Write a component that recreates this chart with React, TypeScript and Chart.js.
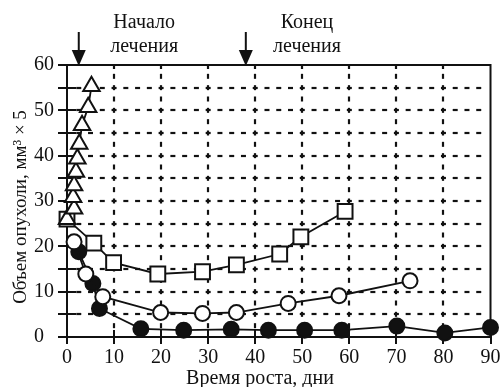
import { useEffect, useRef } from 'react';
import { Chart, registerables } from 'chart.js';

Chart.register(...registerables);

// Control group (triangles)
const controlDays = [0, 1.5, 1.3, 1.5, 1.9, 2.2, 2.6, 3.2, 4.5, 5.2];
const controlVolume = [26, 28.3, 30.8, 33.4, 36.4, 39.3, 42.6, 46.7, 50.7, 55.3];
// Squares
const squareDays = [0, 5.7, 9.9, 19.3, 28.8, 36, 45.2, 49.7, 59.1];
const squareVolume = [26, 20.7, 16.4, 13.9, 14.4, 15.9, 18.3, 22.1, 27.7];
// Open circles
const openDays = [1.5, 4, 7.6, 19.9, 28.8, 36, 47, 57.8, 72.9];
const openVolume = [21, 13.9, 8.9, 5.4, 5.2, 5.4, 7.4, 9.1, 12.4];
// Filled circles
const filledDays = [2.5, 5.5, 6.9, 15.7, 24.8, 34.9, 42.8, 50.5, 58.4, 70.1, 80.3, 90];
const filledVolume = [18.8, 11.8, 6.3, 1.8, 1.5, 1.7, 1.5, 1.5, 1.5, 2.4, 0.9, 2.1];

// Treatment markers (days) and their captions
const treatmentDays = [2.5, 38];
const treatmentCaptions = [
  ['Начало', 'лечения'],
  ['Конец', 'лечения'],
];
const captionDays = [16.4, 51];

const xTitle = 'Время роста, дни';
const yTitle = 'Объем опухоли, мм³ × 5';

const FONT = '"Liberation Serif", "Times New Roman", Times, "DejaVu Serif", serif';

const toPoints = (xs: number[], ys: number[]) => xs.map((x, i) => ({ x, y: ys[i] }));

const decor = {
  id: 'decor',
  beforeDatasetsDraw(chart: any) {
    const { ctx, chartArea: a, scales } = chart;
    const x = scales.x;
    const y = scales.y;
    ctx.save();
    ctx.strokeStyle = '#111';
    ctx.lineWidth = 2.2;
    ctx.lineCap = 'butt';
    // horizontal dashed grid
    for (let v = 5; v < 60; v += 5) {
      const py = Math.round(y.getPixelForValue(v));
      for (let d = 0; d < 90; d += 10) {
        const x0 = x.getPixelForValue(d);
        const x1 = x.getPixelForValue(d + 10);
        const w = (x1 - x0) / 4;
        for (let k = 0; k < 4; k++) {
          if (d === 0 && k === 0) continue;
          const cx = x0 + k * w;
          ctx.beginPath();
          ctx.moveTo(cx - 2.5, py);
          ctx.lineTo(cx + 2.5, py);
          ctx.stroke();
        }
      }
    }
    // vertical dashed grid
    for (let d = 10; d < 90; d += 10) {
      const px = Math.round(x.getPixelForValue(d));
      for (let v = 2.5; v < 60; v += 2.5) {
        const cy = y.getPixelForValue(v);
        ctx.beginPath();
        ctx.moveTo(px, cy - 2.5);
        ctx.lineTo(px, cy + 2.5);
        ctx.stroke();
      }
      ctx.beginPath();
      ctx.moveTo(px, a.top);
      ctx.lineTo(px, a.top + 4);
      ctx.stroke();
    }
    // frame
    ctx.lineWidth = 2;
    ctx.strokeRect(a.left, a.top, a.right - a.left, a.bottom - a.top);
    // y ticks (crossing)
    for (let v = 0; v <= 60; v += 5) {
      const py = Math.round(y.getPixelForValue(v));
      ctx.beginPath();
      ctx.moveTo(a.left - 9, py);
      ctx.lineTo(a.left + 9, py);
      ctx.stroke();
    }
    // x ticks (crossing)
    for (let d = 0; d <= 90; d += 10) {
      const px = Math.round(x.getPixelForValue(d));
      ctx.beginPath();
      ctx.moveTo(px, a.bottom - 7);
      ctx.lineTo(px, a.bottom + 7);
      ctx.stroke();
    }
    ctx.restore();
  },
  afterDraw(chart: any) {
    const { ctx, chartArea: a, scales } = chart;
    const x = scales.x;
    ctx.save();
    ctx.fillStyle = '#111';
    ctx.strokeStyle = '#111';
    // arrows
    treatmentDays.forEach((d) => {
      const px = x.getPixelForValue(d);
      ctx.lineWidth = 2;
      ctx.beginPath();
      ctx.moveTo(px, 32);
      ctx.lineTo(px, a.top - 12);
      ctx.stroke();
      ctx.beginPath();
      ctx.moveTo(px - 7, a.top - 15);
      ctx.lineTo(px + 7, a.top - 15);
      ctx.lineTo(px, a.top + 1);
      ctx.closePath();
      ctx.fill();
    });
    // captions
    ctx.font = `20px ${FONT}`;
    ctx.textAlign = 'center';
    ctx.textBaseline = 'alphabetic';
    treatmentCaptions.forEach((lines, i) => {
      const px = x.getPixelForValue(captionDays[i]);
      ctx.fillText(lines[0], px, 28);
      ctx.fillText(lines[1], px, 52);
    });
    // axis titles
    ctx.font = `20px ${FONT}`;
    ctx.fillText(xTitle, 260, 384);
    ctx.font = `19px ${FONT}`;
    ctx.translate(26, 207);
    ctx.rotate(-Math.PI / 2);
    ctx.fillText(yTitle, 0, 0);
    ctx.restore();
  },
};

export default function App() {
  const ref = useRef<HTMLCanvasElement>(null);
  useEffect(() => {
    document.body.style.margin = '0';
    let chart: Chart | null = null;
    let cancelled = false;
    const build = () => {
      if (cancelled || !ref.current) return;
      const common = {
        showLine: true,
        borderColor: '#111',
        borderWidth: 1.8,
        pointBorderColor: '#111',
        pointBorderWidth: 2,
        clip: false as any,
      };
      chart = new Chart(ref.current, {
        type: 'scatter',
        data: {
          datasets: [
            {
              ...common,
              data: toPoints(controlDays, controlVolume),
              pointStyle: 'triangle',
              pointRadius: 9.5,
              pointBackgroundColor: '#fff',
              order: 0,
            },
            {
              ...common,
              data: toPoints(squareDays, squareVolume),
              pointStyle: 'rect',
              pointRadius: 10.5,
              pointBackgroundColor: '#fff',
              order: 1,
            },
            {
              ...common,
              data: toPoints(openDays, openVolume),
              pointStyle: 'circle',
              pointRadius: 7.5,
              pointBackgroundColor: '#fff',
              order: 2,
            },
            {
              ...common,
              data: toPoints(filledDays, filledVolume),
              pointStyle: 'circle',
              pointRadius: 7.5,
              pointBackgroundColor: '#111',
              order: 3,
            },
          ],
        },
        options: {
          animation: false,
          responsive: false,
          events: [],
          layout: { padding: { left: 34, top: 65, right: 7, bottom: 0 } },
          plugins: { legend: { display: false }, tooltip: { enabled: false } },
          scales: {
            x: {
              type: 'linear',
              min: 0,
              max: 90,
              grid: { display: false, drawTicks: false },
              border: { display: false },
              ticks: {
                stepSize: 10,
                padding: 9,
                color: '#111',
                font: { family: FONT, size: 20 },
                maxRotation: 0,
              },
              afterFit: (s: any) => {
                s.height = 50;
                s.paddingLeft = 0;
                s.paddingRight = 0;
              },
            },
            y: {
              type: 'linear',
              min: 0,
              max: 60,
              grid: { display: false, drawTicks: false },
              border: { display: false },
              ticks: {
                stepSize: 5,
                crossAlign: 'far',
                color: '#111',
                font: { family: FONT, size: 20 },
                callback: (v: any) => (Number(v) % 10 === 0 ? String(v) : ''),
              },
              afterFit: (s: any) => {
                s.width = 33;
                s.paddingTop = 0;
                s.paddingBottom = 0;
              },
            },
          },
        },
        plugins: [decor],
      });
    };
    const fontsApi: any = (document as any).fonts;
    if (fontsApi && fontsApi.load) {
      Promise.all([
        fontsApi.load('20px "Liberation Serif"'),
        fontsApi.load('20px "Liberation Serif"', 'Начало лечения'),
      ])
        .catch(() => undefined)
        .then(build);
    } else {
      build();
    }
    return () => {
      cancelled = true;
      if (chart) chart.destroy();
    };
  }, []);
  return (
    <div style={{ position: 'fixed', left: 0, top: 0, width: 503, height: 387 }}>
      <canvas ref={ref} width={503} height={387} />
    </div>
  );
}
